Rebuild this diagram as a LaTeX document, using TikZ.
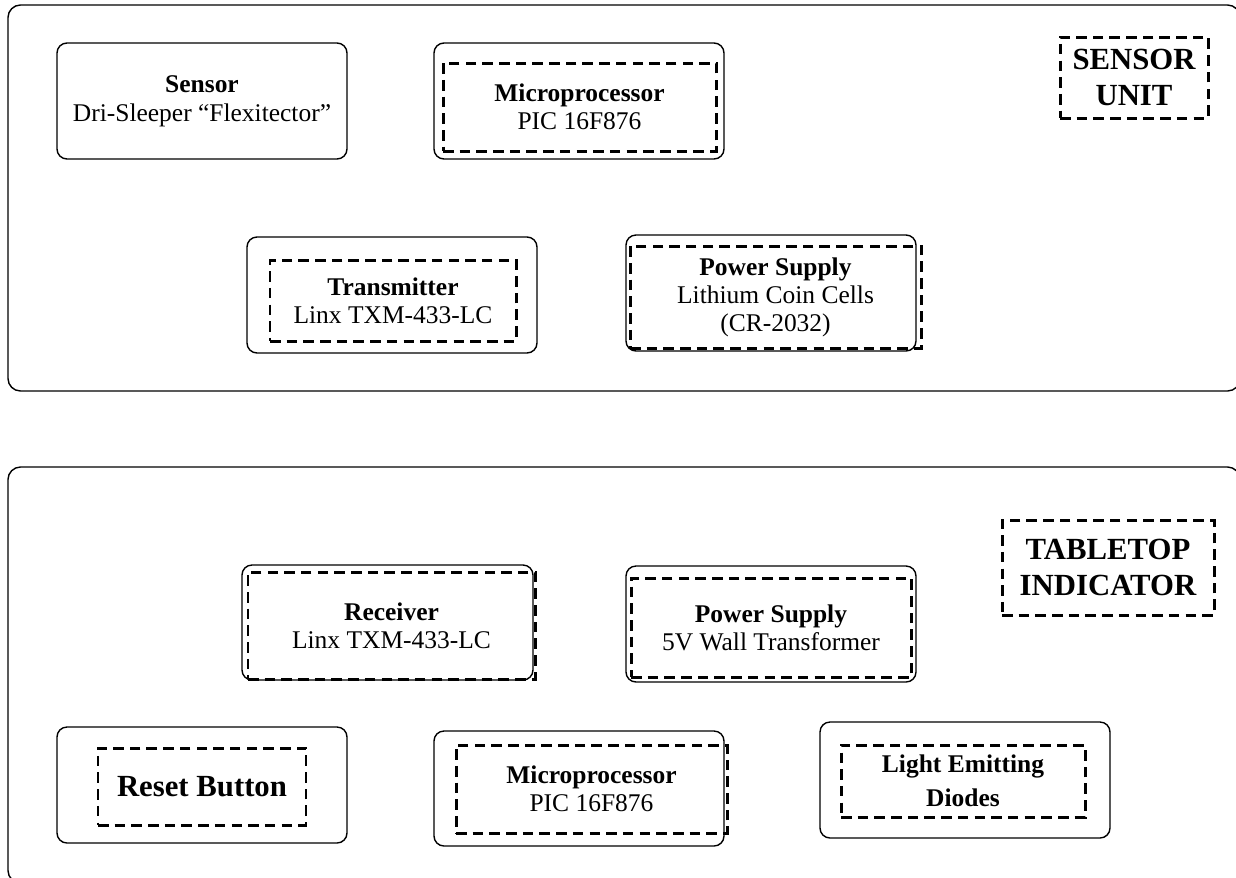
\documentclass[tikz,border=0pt]{standalone}
\usepackage{fontspec}
\setmainfont{Liberation Serif}
\usetikzlibrary{positioning}
\tikzset{
    dims/.style 2 args = {
        minimum width=#1*0.02cm,
        minimum height=#2*0.02cm,
        inner sep=0pt
    },
    unit/.style = {
        draw,
        shape=rectangle,
        rounded corners=0.25cm,
        line width=0.8pt
    },
    block/.style = {
        draw,
        shape=rectangle,
        rounded corners=0.2cm,
        line width=0.8pt,
        align=center,
        font=\fontsize{14.5}{16.5}\selectfont
    },
    dashbox/.style = {
        draw,
        shape=rectangle,
        line width=1.7pt,
        dash pattern=on 6pt off 3.5pt,
        align=center,
        font=\fontsize{14.5}{16}\selectfont
    },
    title/.style = {
        dashbox,
        font=\fontsize{17.5}{20}\selectfont\bfseries
    },
}

\begin{document}
\begin{tikzpicture}[x=0.02cm,y=-0.02cm]
                \useasboundingbox (0,0) rectangle (1236,877);
                \clip (0,0) rectangle (1236,877);

                \node[unit, dims={1232}{386}] (sensorunit) at (624,198) {};
                \node[unit, dims={1232}{416}] (tabletop) at (624,675) {};

                \node[block, dims={290}{116}] (sensor) at (202,101) {\textbf{Sensor}\\Dri-Sleeper “Flexitector”};
                \node[block, dims={290}{116}] (micro) at (579,101) {};
                \node[dashbox, dims={273}{88}] (microin) at (579.5,107) {\textbf{Microprocessor}\\PIC 16F876};
                \node[title, dims={148}{81}] (sensorlabel) at (1134,77.5) {SENSOR\\UNIT};
                \node[block, dims={290}{116}] (trans) at (392,295) {};
                \node[dashbox, dims={246}{81}] (transin) at (393,300.5) {\textbf{Transmitter}\\Linx TXM-433-LC};
                \node[block, dims={290}{116}] (power) at (771,293) {};
                \node[dashbox, dims={291}{102}] (powerin) at (775.5,297) {\textbf{Power Supply}\\Lithium Coin Cells\\(CR-2032)};

                \node[block, dims={291}{115}] (recv) at (387.5,622.5) {};
                \node[dashbox, dims={287}{107}] (recvin) at (391.5,625.5) {\textbf{Receiver}\\Linx TXM-433-LC};
                \node[block, dims={290}{116}] (wall) at (771,624) {};
                \node[dashbox, dims={280}{99}] (wallin) at (771,627.5) {\textbf{Power Supply}\\5V Wall Transformer};
                \node[title, dims={212}{95}] (tablelabel) at (1108,567.5) {TABLETOP\\INDICATOR};
                \node[block, dims={290}{116}] (reset) at (202,785) {};
                \node[title, dims={208}{77}] (resetin) at (202,786.5) {Reset Button};
                \node[block, dims={290}{115}] (micro2) at (579,788.5) {};
                \node[dashbox, dims={271}{88}] (micro2in) at (591.5,789) {\textbf{Microprocessor}\\PIC 16F876};
                \node[block, dims={290}{116}] (led) at (965,780) {};
                \node[dashbox, dims={244}{72}, font=\fontsize{14.5}{19.5}\selectfont\bfseries] (ledin) at (963,781) {Light Emitting\\Diodes};
            \end{tikzpicture}
\end{document}
